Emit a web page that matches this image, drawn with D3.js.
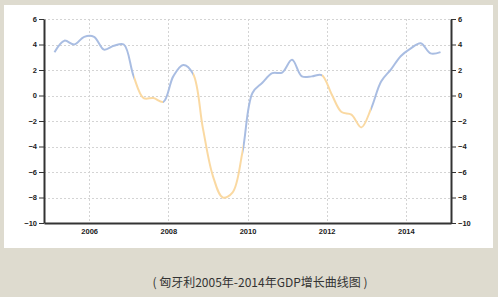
<!DOCTYPE html>
<html>
<head>
<meta charset="utf-8">
<script src="https://cdn.jsdelivr.net/npm/d3@7"></script>
<style>
  body { margin: 0; background: #dedbcf; }
  svg { display: block; }
</style>
</head>
<body>
<div id="content"></div>
<script>
var width = 498, height = 297

// quarterly data, Hungary GDP growth (%), 2005 Q1 .. 2014 Q4
var years = d3.range(2005, 2015)
var gdpGrowth = [
    3.4, 4.3, 4.0, 4.6,
    4.6, 3.6, 3.9, 4.0,
    1.5, -0.2, -0.2, -0.5,
    1.5, 2.4, 1.7, -2.6,
    -6.3, -8.0, -7.6, -4.4,
    0.2, 1.0, 1.75, 1.8,
    2.8, 1.5, 1.5, 1.6,
    0.1, -1.3, -1.5, -2.5,
    -1.0, 1.1, 2.05, 3.1,
    3.7, 4.1, 3.3, 3.4
]
// quarter index ranges drawn in orange
var declineRanges = [[8, 11], [14, 19], [27, 32]]
var yTicks = [-10, -8, -6, -4, -2, 0, 2, 4, 6]
var xTicks = [2006, 2008, 2010, 2012, 2014]
var caption = '( 匈牙利2005年-2014年GDP增长曲线图 )'

var data = gdpGrowth.map((v, i) => ({
    t: years[Math.floor(i / 4)] + ((i % 4) + 0.5) / 4,
    v: v
}))

var svg = d3.select('#content')
    .append('svg')
    .attr('width', width)
    .attr('height', height)

// white panel
svg.append('rect')
    .attr('x', 4).attr('y', 5)
    .attr('width', 489).attr('height', 243)
    .attr('fill', '#fff')

var x = d3.scaleLinear().domain([2004.86, 2015.14]).range([44, 451])
var y = d3.scaleLinear().domain([-10, 6]).range([223, 19])

// grid
var grid = svg.append('g')
    .attr('stroke', '#d4d4d4')
    .attr('stroke-width', 1)
    .attr('stroke-dasharray', '2,2')
grid.selectAll('line.h')
    .data(yTicks.filter(d => d > -10))
    .join('line')
    .attr('class', 'h')
    .attr('x1', x.range()[0]).attr('x2', x.range()[1])
    .attr('y1', d => Math.round(y(d)) + 0.5)
    .attr('y2', d => Math.round(y(d)) + 0.5)
grid.selectAll('line.v')
    .data(xTicks)
    .join('line')
    .attr('class', 'v')
    .attr('x1', d => Math.round(x(d)) + 0.5)
    .attr('x2', d => Math.round(x(d)) + 0.5)
    .attr('y1', y.range()[1]).attr('y2', y.range()[0])

// gradient: blue by default, orange on the declining stretches
var defs = svg.append('defs')
var grad = defs.append('linearGradient')
    .attr('id', 'lineColor')
    .attr('gradientUnits', 'userSpaceOnUse')
    .attr('x1', x.range()[0]).attr('x2', x.range()[1])
    .attr('y1', 0).attr('y2', 0)
var blue = '#a9bde2', orange = '#fad9a2'
var span = x.range()[1] - x.range()[0]
var stops = []
declineRanges.forEach(r => {
    var a = (x(data[r[0]].t) - x.range()[0]) / span
    var b = (x(data[r[1]].t) - x.range()[0]) / span
    stops.push([a, blue], [a, orange], [b, orange], [b, blue])
})
grad.selectAll('stop')
    .data([[0, blue]].concat(stops, [[1, blue]]))
    .join('stop')
    .attr('offset', d => d[0])
    .attr('stop-color', d => d[1])

var line = d3.line()
    .x(d => x(d.t))
    .y(d => y(d.v))
    .curve(d3.curveCatmullRom.alpha(0.5))

svg.append('path')
    .datum(data)
    .attr('fill', 'none')
    .attr('stroke', 'url(#lineColor)')
    .attr('stroke-width', 2)
    .attr('stroke-linejoin', 'round')
    .attr('d', line)

// axes
var fontFam = '"Liberation Sans", Arial, sans-serif'
function styleAxis(g) {
    g.select('.domain').attr('stroke', '#333').attr('stroke-width', 2)
    g.selectAll('.tick line').attr('stroke', '#333')
    g.selectAll('.tick text')
        .attr('fill', '#222')
        .attr('font-family', fontFam)
        .attr('font-size', 7.5)
        .attr('font-weight', 'bold')
}

svg.append('g')
    .attr('transform', `translate(${x.range()[0]},0)`)
    .call(d3.axisLeft(y).tickValues(yTicks).tickSize(5).tickSizeOuter(0).tickPadding(2))
    .call(styleAxis)

svg.append('g')
    .attr('transform', `translate(${x.range()[1]},0)`)
    .call(d3.axisRight(y).tickValues(yTicks).tickSize(5).tickSizeOuter(0).tickPadding(2))
    .call(styleAxis)

svg.append('g')
    .attr('transform', `translate(0,${y.range()[0]})`)
    .call(d3.axisBottom(x).tickValues(xTicks).tickFormat(d3.format('d')).tickSize(0).tickSizeOuter(0).tickPadding(6))
    .call(styleAxis)

// caption
svg.append('text')
    .attr('x', 260)
    .attr('y', 287)
    .attr('text-anchor', 'middle')
    .attr('font-family', '"Noto Sans CJK SC", sans-serif')
    .attr('font-size', 12)
    .attr('fill', '#333')
    .text(caption)
</script>
</body>
</html>
